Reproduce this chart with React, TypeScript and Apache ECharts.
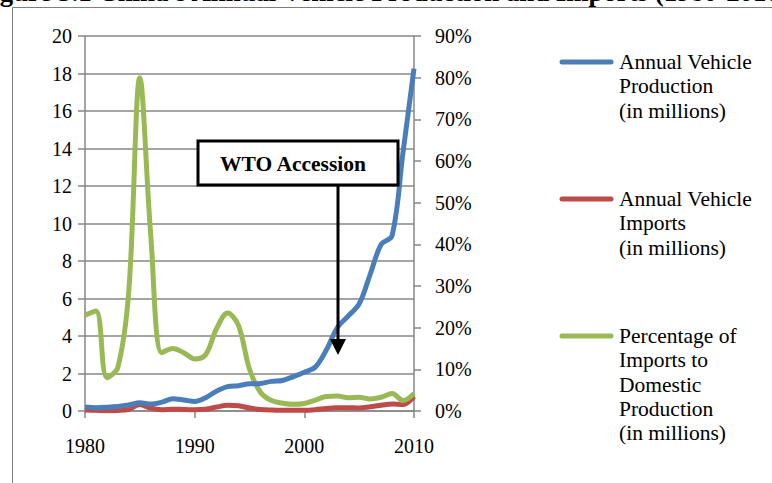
import React, { useEffect, useRef } from "react";
import * as echarts from "echarts";

const years = [1980,1981,1982,1983,1984,1985,1986,1987,1988,1989,1990,1991,1992,1993,1994,1995,1996,1997,1998,1999,2000,2001,2002,2003,2004,2005,2006,2007,2008,2009,2010];
const production = [0.22,0.18,0.2,0.24,0.32,0.44,0.37,0.47,0.65,0.59,0.51,0.71,1.06,1.3,1.35,1.45,1.47,1.58,1.63,1.83,2.07,2.34,3.25,4.44,5.07,5.71,7.28,8.88,9.35,13.8,18.26];
const imports = [0.05,0.04,0.02,0.03,0.09,0.35,0.15,0.07,0.1,0.08,0.07,0.09,0.21,0.31,0.28,0.16,0.08,0.05,0.04,0.04,0.04,0.07,0.13,0.17,0.18,0.16,0.23,0.31,0.38,0.35,0.78];
const percentage = [23,24,8,10.5,29,80,42,14,15,14,12.5,13.5,19.8,23.5,20.5,10,4.5,2.5,1.9,1.6,1.8,2.6,3.5,3.6,3.2,3.3,2.9,3.3,4.2,2.5,4.2];
const leftTicks = { min: 0, max: 20, interval: 2 };
const rightTicks = { min: 0, max: 90, interval: 10 };
const seriesNames = ["Annual Vehicle Production (in millions)", "Annual Vehicle Imports (in millions)", "Percentage of Imports to Domestic Production (in millions)"];
const legendLines = [
  ["Annual Vehicle", "Production", "(in millions)"],
  ["Annual Vehicle", "Imports", "(in millions)"],
  ["Percentage of", "Imports to", "Domestic", "Production", "(in millions)"],
];
const colors = ["#4A7EBB", "#BE4B48", "#98B954"];
const title = "Figure 5.1 China's Annual Vehicle Production and Imports (1980-2010)";
const annotation = "WTO Accession";

const FONT = "'Liberation Serif', 'Times New Roman', serif";

export default function App() {
  const ref = useRef<HTMLDivElement>(null);
  useEffect(() => {
    if (!ref.current) return;
    const chart = echarts.init(ref.current, null, { renderer: "svg" });
    const pair = (arr: number[]) => years.map((y, i) => [y, arr[i]]);
    const axisGray = "#878787";
    const legendY = [62, 199, 336];
    const graphics: any[] = [
      {
        type: "rect",
        shape: { x: 12.5, y: 7.5, width: 900, height: 600 },
        style: { fill: "none", stroke: "#7f7f7f", lineWidth: 1 },
        silent: true,
        z: 0,
      },
      {
        type: "text",
        x: -24,
        y: 5,
        style: { text: title, font: `bold 26.8px ${FONT}`, fill: "#000", textVerticalAlign: "bottom" },
        z: 10,
      },
      {
        type: "rect",
        shape: { x: 198, y: 141, width: 200, height: 44 },
        style: { fill: "#fff", stroke: "#000", lineWidth: 3 },
        z: 20,
      },
      {
        type: "text",
        x: 293,
        y: 164,
        style: { text: annotation, font: `bold 21.5px ${FONT}`, fill: "#000", align: "center", verticalAlign: "middle" },
        z: 21,
      },
      {
        type: "line",
        shape: { x1: 338, y1: 186, x2: 338, y2: 342 },
        style: { stroke: "#000", lineWidth: 3 },
        z: 20,
      },
      {
        type: "polygon",
        shape: { points: [[330, 339], [346, 339], [338, 355]] },
        style: { fill: "#000" },
        z: 20,
      },
    ];
    legendLines.forEach((lines, i) => {
      graphics.push({
        type: "line",
        shape: { x1: 562, y1: legendY[i], x2: 611, y2: legendY[i] },
        style: { stroke: colors[i], lineWidth: 5, lineCap: "round" },
        z: 20,
      });
      lines.forEach((t, j) => {
        graphics.push({
          type: "text",
          x: 619,
          y: legendY[i] + j * 24.3,
          style: { text: t, font: `21.5px ${FONT}`, fill: "#000", verticalAlign: "middle" },
          z: 20,
        });
      });
    });

    chart.setOption({
      animation: false,
      backgroundColor: "#fff",
      grid: { left: 85, right: 358, top: 36, bottom: 72 },
      xAxis: {
        type: "value",
        min: 1980,
        max: 2010,
        interval: 10,
        axisLine: { show: true, lineStyle: { color: axisGray, width: 1.5 } },
        axisTick: { show: true, length: 7, lineStyle: { color: axisGray, width: 1.5 } },
        splitLine: { show: false },
        axisLabel: { color: "#000", fontFamily: FONT, fontSize: 20, margin: 25, formatter: (v: number) => String(v) },
      },
      yAxis: [
        {
          type: "value",
          ...leftTicks,
          axisLine: { show: true, lineStyle: { color: axisGray, width: 1.5 } },
          axisTick: { show: true, length: 7, lineStyle: { color: axisGray, width: 1.5 } },
          splitLine: { show: true, lineStyle: { color: axisGray, width: 1.5 } },
          axisLabel: { color: "#000", fontFamily: FONT, fontSize: 20, margin: 13 },
        },
        {
          type: "value",
          position: "right",
          ...rightTicks,
          axisLine: { show: true, lineStyle: { color: axisGray, width: 1.5 } },
          axisTick: { show: true, length: 7, lineStyle: { color: axisGray, width: 1.5 } },
          splitLine: { show: false },
          axisLabel: { color: "#000", fontFamily: FONT, fontSize: 20, margin: 21, formatter: "{value}%" },
        },
      ],
      series: [
        { name: seriesNames[2], type: "line", yAxisIndex: 1, data: pair(percentage), smooth: 0.35, showSymbol: false, lineStyle: { color: colors[2], width: 5 }, itemStyle: { color: colors[2] }, z: 3 },
        { name: seriesNames[1], type: "line", yAxisIndex: 0, data: pair(imports), smooth: 0.35, showSymbol: false, lineStyle: { color: colors[1], width: 5 }, itemStyle: { color: colors[1] }, z: 2 },
        { name: seriesNames[0], type: "line", yAxisIndex: 0, data: pair(production), smooth: 0.35, showSymbol: false, lineStyle: { color: colors[0], width: 5 }, itemStyle: { color: colors[0] }, z: 4 },
      ],
      graphic: graphics,
    });
    return () => chart.dispose();
  }, []);
  return <div ref={ref} style={{ position: "fixed", left: 0, top: 0, width: 772, height: 483 }} />;
}
